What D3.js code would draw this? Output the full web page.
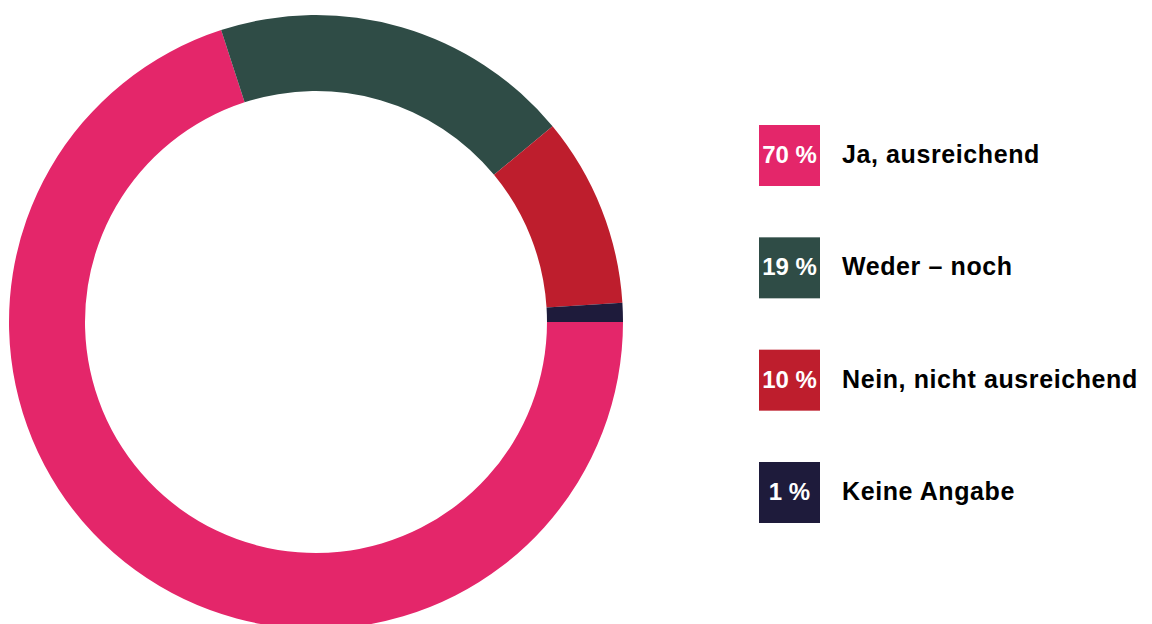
<!DOCTYPE html>
<html>
<head>
<meta charset="utf-8">
<script src="https://cdn.jsdelivr.net/npm/d3@7"></script>
<style>
    body { margin: 0; background: #fff; }
    svg { display: block; }
    text { font-family: "Liberation Sans", Arial, sans-serif; font-weight: bold; }
</style>
</head>
<body>
<div id="chart"></div>
<script>
// data
let categories = ["Ja, ausreichend", "Weder \u2013 noch", "Nein, nicht ausreichend", "Keine Angabe"];
let values = [70, 19, 10, 1];
let colors = ["#e4266a", "#2f4c46", "#be1e2d", "#1e1b3b"];

let width = 1152, height = 624;

let svg = d3.select("#chart").append("svg")
    .attr("width", width)
    .attr("height", height);

// donut
let cx = 316, cy = 322, outerR = 307, innerR = 231;

let pie = d3.pie()
    .sort(null)
    .value(d => d)
    .startAngle(Math.PI / 2)
    .endAngle(Math.PI / 2 + 2 * Math.PI);

let arc = d3.arc()
    .innerRadius(innerR)
    .outerRadius(outerR);

let donut = svg.append("g")
    .attr("transform", `translate(${cx}, ${cy})`);

donut.selectAll("path")
    .data(pie(values))
    .enter()
    .append("path")
    .attr("d", arc)
    .attr("fill", (d, i) => colors[i]);

// legend
let legendY = d3.scalePoint()
    .domain(categories)
    .range([125, 462]);

let box = 61;

let legend = svg.append("g")
    .attr("transform", "translate(759, 0)");

let items = legend.selectAll("g")
    .data(categories)
    .enter()
    .append("g")
    .attr("transform", d => `translate(0, ${legendY(d)})`);

items.append("rect")
    .attr("width", box)
    .attr("height", box)
    .attr("fill", (d, i) => colors[i]);

items.append("text")
    .attr("x", box / 2)
    .attr("y", 38)
    .attr("text-anchor", "middle")
    .attr("fill", "#fff")
    .style("font-size", "24px")
    .text((d, i) => values[i] + " %");

items.append("text")
    .attr("x", 83)
    .attr("y", 38)
    .attr("fill", "#000")
    .style("font-size", "25px")
    .style("letter-spacing", "0.6px")
    .text(d => d);
</script>
</body>
</html>
